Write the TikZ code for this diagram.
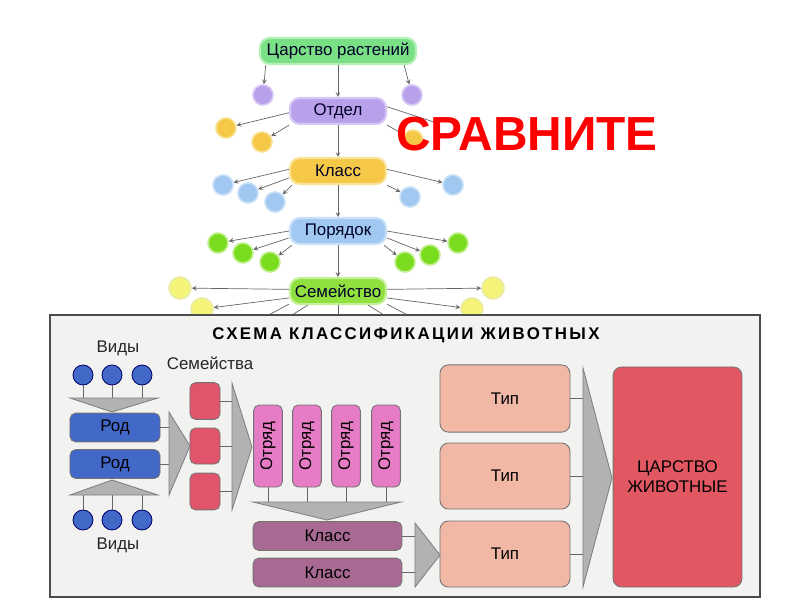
\documentclass[tikz,border=0pt]{standalone}
\usepackage{fontspec}
\setmainfont{Liberation Sans}
\usepackage{tikz}
\usepackage{xcolor}
\usetikzlibrary{arrows, positioning}
\definecolor{kingdomgreen}{RGB}{122,224,134}
\definecolor{kingdomglow}{RGB}{178,240,180}
\definecolor{divviolet}{RGB}{184,160,234}
\definecolor{divglow}{RGB}{214,200,246}
\definecolor{classgold}{RGB}{246,200,72}
\definecolor{classglow}{RGB}{250,226,150}
\definecolor{orderblue}{RGB}{160,200,240}
\definecolor{orderglow}{RGB}{200,224,248}
\definecolor{famgreen}{RGB}{144,224,64}
\definecolor{famglow}{RGB}{196,240,150}
\definecolor{dotyellow}{RGB}{244,244,120}
\definecolor{dotyellowglow}{RGB}{236,236,170}
\definecolor{dotgreen}{RGB}{122,220,30}
\definecolor{framegray}{RGB}{242,242,240}
\definecolor{funnelgray}{RGB}{178,178,178}
\definecolor{genusblue}{RGB}{66,104,200}
\definecolor{familyred}{RGB}{226,84,108}
\definecolor{orderpink}{RGB}{230,124,198}
\definecolor{classmauve}{RGB}{168,106,146}
\definecolor{typesalmon}{RGB}{242,184,166}
\definecolor{animalred}{RGB}{226,88,98}
\tikzstyle{rankbox} = [rectangle, rounded corners=7pt, minimum width=2.4cm, minimum height=0.65cm, text centered, inner sep=1pt, line width=1.5pt, text=black!85!blue, font=\fontsize{12}{14}\selectfont]
\tikzstyle{dot} = [circle, minimum size=0.5cm, inner sep=0pt, line width=1.2pt]
\tikzstyle{arrow} = [draw=black!60, line width=0.5pt, ->, >=stealth]
\tikzstyle{schemebox} = [rectangle, rounded corners=4pt, draw=black!55, line width=0.6pt, text centered, inner sep=1pt, font=\fontsize{12}{14}\selectfont]
\tikzstyle{speciesdot} = [circle, minimum size=0.5cm, inner sep=0pt, fill=genusblue, draw=black!60!blue, line width=0.6pt]
\tikzstyle{funnel} = [fill=funnelgray, draw=black!50, line width=0.6pt]
\tikzstyle{stem} = [draw=black!60, line width=0.6pt]
\tikzstyle{caption} = [font=\fontsize{12}{14}\selectfont, text=black!85]

\begin{document}
\begin{tikzpicture}[x=0.025cm, y=-0.025cm, node distance=1.5cm]
        \useasboundingbox (0,0) rectangle (800,600);

        % plant tree
        \node (kingdom) [rankbox, minimum width=3.9cm, fill=kingdomgreen, draw=kingdomglow] at (338,51) {Царство растений};
        \node (division) [rankbox, fill=divviolet, draw=divglow, below of=kingdom] {Отдел};
        \node (klass) [rankbox, fill=classgold, draw=classglow, below of=division] {Класс};
        \node (order) [rankbox, fill=orderblue, draw=orderglow, below of=klass] {Порядок};
        \node (family) [rankbox, fill=famgreen, draw=famglow, below of=order] {Семейство};

        \node (violet1) [dot, fill=divviolet, draw=divglow] at (263,95) {};
        \node (violet2) [dot, fill=divviolet, draw=divglow] at (412,95) {};
        \node (gold1) [dot, fill=classgold, draw=classglow] at (226,128) {};
        \node (gold2) [dot, fill=classgold, draw=classglow] at (262,142) {};
        \node (gold3) [dot, fill=classgold, draw=classglow] at (413,140) {};
        \coordinate (point1) at (440,124);
        \node (blue1) [dot, fill=orderblue, draw=orderglow] at (223,185) {};
        \node (blue2) [dot, fill=orderblue, draw=orderglow] at (248,193) {};
        \node (blue3) [dot, fill=orderblue, draw=orderglow] at (275,202) {};
        \node (blue4) [dot, fill=orderblue, draw=orderglow] at (410,197) {};
        \node (blue5) [dot, fill=orderblue, draw=orderglow] at (453,185) {};
        \node (green1) [dot, fill=dotgreen, draw=famglow] at (218,243) {};
        \node (green2) [dot, fill=dotgreen, draw=famglow] at (243,253) {};
        \node (green3) [dot, fill=dotgreen, draw=famglow] at (270,262) {};
        \node (green4) [dot, fill=dotgreen, draw=famglow] at (405,262) {};
        \node (green5) [dot, fill=dotgreen, draw=famglow] at (430,255) {};
        \node (green6) [dot, fill=dotgreen, draw=famglow] at (458,243) {};
        \node (yellow1) [dot, minimum size=0.55cm, fill=dotyellow, draw=dotyellowglow] at (180,288) {};
        \node (yellow2) [dot, minimum size=0.55cm, fill=dotyellow, draw=dotyellowglow] at (202,309) {};
        \node (yellow3) [dot, minimum size=0.55cm, fill=dotyellow, draw=dotyellowglow] at (472,309) {};
        \node (yellow4) [dot, minimum size=0.55cm, fill=dotyellow, draw=dotyellowglow] at (493,288) {};
        \coordinate (point2) at (240,330);
        \coordinate (point3) at (268,330);
        \coordinate (point4) at (338,330);
        \coordinate (point5) at (408,330);
        \coordinate (point6) at (436,330);

        \draw [arrow] (kingdom) -- (division);
        \draw [arrow] (division) -- (klass);
        \draw [arrow] (klass) -- (order);
        \draw [arrow] (order) -- (family);
        \draw [arrow] (kingdom.191) -- (violet1);
        \draw [arrow] (kingdom.348) -- (violet2);
        \draw [arrow] (division.182) -- (gold1);
        \draw [arrow] (division.196) -- (gold2);
        \draw [arrow] (division.344) -- (gold3);
        \draw [black!60, line width=0.5pt] (division.5) -- (point1);
        \draw [arrow] (klass.178) -- (blue1);
        \draw [arrow] (klass.188) -- (blue2);
        \draw [arrow] (klass.197) -- (blue3);
        \draw [arrow] (klass.344) -- (blue4);
        \draw [arrow] (klass.2) -- (blue5);
        \draw [arrow] (order.180) -- (green1);
        \draw [arrow] (order.188) -- (green2);
        \draw [arrow] (order.197) -- (green3);
        \draw [arrow] (order.343) -- (green4);
        \draw [arrow] (order.352) -- (green5);
        \draw [arrow] (order.0) -- (green6);
        \draw [arrow] (family.178) -- (yellow1);
        \draw [arrow] (family.188) -- (yellow2);
        \draw [arrow] (family.352) -- (yellow3);
        \draw [arrow] (family.2) -- (yellow4);
        \draw [black!60, line width=0.5pt] (family.195) -- (point2);
        \draw [black!60, line width=0.5pt] (family.205) -- (point3);
        \draw [black!60, line width=0.5pt] (family.south) -- (point4);
        \draw [black!60, line width=0.5pt] (family.335) -- (point5);
        \draw [black!60, line width=0.5pt] (family.345) -- (point6);

        % animal scheme
        \draw [fill=framegray, draw=black!70, line width=1.2pt] (50,315) rectangle (760,597);
        \node (title) at (406,335) {\fontsize{12}{14}\selectfont\bfseries\addfontfeatures{LetterSpace=14}СХЕМА КЛАССИФИКАЦИИ ЖИВОТНЫХ};

        \node (species1) [caption] at (118,348) {Виды};
        \node (species2) [caption] at (118,545) {Виды};
        \node (families) [caption] at (210,363) {Семейства};

        \node (spec1) [speciesdot] at (83,375) {};
        \node (spec2) [speciesdot] at (112,375) {};
        \node (spec3) [speciesdot] at (142,375) {};
        \node (spec4) [speciesdot] at (83,520) {};
        \node (spec5) [speciesdot] at (112,520) {};
        \node (spec6) [speciesdot] at (142,520) {};
        \node (genus1) [schemebox, fill=genusblue, minimum width=2.25cm, minimum height=0.72cm] at (115,427.5) {Род};
        \node (genus2) [schemebox, fill=genusblue, minimum width=2.25cm, minimum height=0.72cm] at (115,464) {Род};
        \node (fam1) [schemebox, fill=familyred, minimum width=0.75cm, minimum height=0.92cm] at (205,401) {};
        \node (fam2) [schemebox, fill=familyred, minimum width=0.75cm, minimum height=0.9cm] at (205,446) {};
        \node (fam3) [schemebox, fill=familyred, minimum width=0.75cm, minimum height=0.92cm] at (205,491.5) {};
        \node (order1) [schemebox, fill=orderpink, minimum width=0.72cm, minimum height=2.05cm] at (268,446) {\rotatebox{90}{Отряд}};
        \node (order2) [schemebox, fill=orderpink, minimum width=0.72cm, minimum height=2.05cm] at (307,446) {\rotatebox{90}{Отряд}};
        \node (order3) [schemebox, fill=orderpink, minimum width=0.72cm, minimum height=2.05cm] at (346,446) {\rotatebox{90}{Отряд}};
        \node (order4) [schemebox, fill=orderpink, minimum width=0.72cm, minimum height=2.05cm] at (386,446) {\rotatebox{90}{Отряд}};
        \node (class1) [schemebox, fill=classmauve, minimum width=3.72cm, minimum height=0.72cm] at (327.5,536) {Класс};
        \node (class2) [schemebox, fill=classmauve, minimum width=3.72cm, minimum height=0.72cm] at (327.5,572.5) {Класс};
        \node (type1) [schemebox, rounded corners=6pt, fill=typesalmon, minimum width=3.25cm, minimum height=1.68cm] at (505,398.5) {Тип};
        \node (type2) [schemebox, rounded corners=6pt, fill=typesalmon, minimum width=3.25cm, minimum height=1.65cm] at (505,476) {Тип};
        \node (type3) [schemebox, rounded corners=6pt, fill=typesalmon, minimum width=3.25cm, minimum height=1.65cm] at (505,554) {Тип};
        \node (animals) [schemebox, rounded corners=6pt, fill=animalred, minimum width=3.22cm, minimum height=5.5cm, align=center] at (677.5,477) {ЦАРСТВО\\ЖИВОТНЫЕ};

        \coordinate (funnel1a) at (70,398);
        \coordinate (funnel1b) at (158,398);
        \coordinate (funnel1c) at (112,412);
        \coordinate (funnel2a) at (70,495);
        \coordinate (funnel2b) at (158,495);
        \coordinate (funnel2c) at (112,480);
        \coordinate (funnel3a) at (169,412);
        \coordinate (funnel3b) at (169,495);
        \coordinate (funnel3c) at (190,446);
        \coordinate (funnel4a) at (232,383);
        \coordinate (funnel4b) at (232,510);
        \coordinate (funnel4c) at (252,447);
        \coordinate (funnel5a) at (253,502);
        \coordinate (funnel5b) at (401,502);
        \coordinate (funnel5c) at (327,520);
        \coordinate (funnel6a) at (415,523);
        \coordinate (funnel6b) at (415,587);
        \coordinate (funnel6c) at (440,555);
        \coordinate (funnel7a) at (583,368);
        \coordinate (funnel7b) at (583,587);
        \coordinate (funnel7c) at (612,478);

        \draw [stem] (spec1) -- (spec1 |- funnel1a);
        \draw [stem] (spec2) -- (spec2 |- funnel1a);
        \draw [stem] (spec3) -- (spec3 |- funnel1a);
        \draw [stem] (spec4) -- (spec4 |- funnel2a);
        \draw [stem] (spec5) -- (spec5 |- funnel2a);
        \draw [stem] (spec6) -- (spec6 |- funnel2a);
        \draw [stem] (genus1) -- (genus1 -| funnel3a);
        \draw [stem] (genus2) -- (genus2 -| funnel3a);
        \draw [stem] (fam1) -- (fam1 -| funnel4a);
        \draw [stem] (fam2) -- (fam2 -| funnel4a);
        \draw [stem] (fam3) -- (fam3 -| funnel4a);
        \draw [stem] (order1) -- (order1 |- funnel5a);
        \draw [stem] (order2) -- (order2 |- funnel5a);
        \draw [stem] (order3) -- (order3 |- funnel5a);
        \draw [stem] (order4) -- (order4 |- funnel5a);
        \draw [stem] (class1) -- (class1 -| funnel6a);
        \draw [stem] (class2) -- (class2 -| funnel6a);
        \draw [stem] (type1) -- (type1 -| funnel7a);
        \draw [stem] (type2) -- (type2 -| funnel7a);
        \draw [stem] (type3) -- (type3 -| funnel7a);

        \draw [funnel] (funnel1a) -- (funnel1b) -- (funnel1c) -- cycle;
        \draw [funnel] (funnel2a) -- (funnel2b) -- (funnel2c) -- cycle;
        \draw [funnel] (funnel3a) -- (funnel3b) -- (funnel3c) -- cycle;
        \draw [funnel] (funnel4a) -- (funnel4b) -- (funnel4c) -- cycle;
        \draw [funnel] (funnel5a) -- (funnel5b) -- (funnel5c) -- cycle;
        \draw [funnel] (funnel6a) -- (funnel6b) -- (funnel6c) -- cycle;
        \draw [funnel] (funnel7a) -- (funnel7b) -- (funnel7c) -- cycle;

        % overlay text
        \node (compare) [text=red, font=\fontsize{34}{36}\selectfont\bfseries] at (527,134) {СРАВНИТЕ};

    \end{tikzpicture}
\end{document}
